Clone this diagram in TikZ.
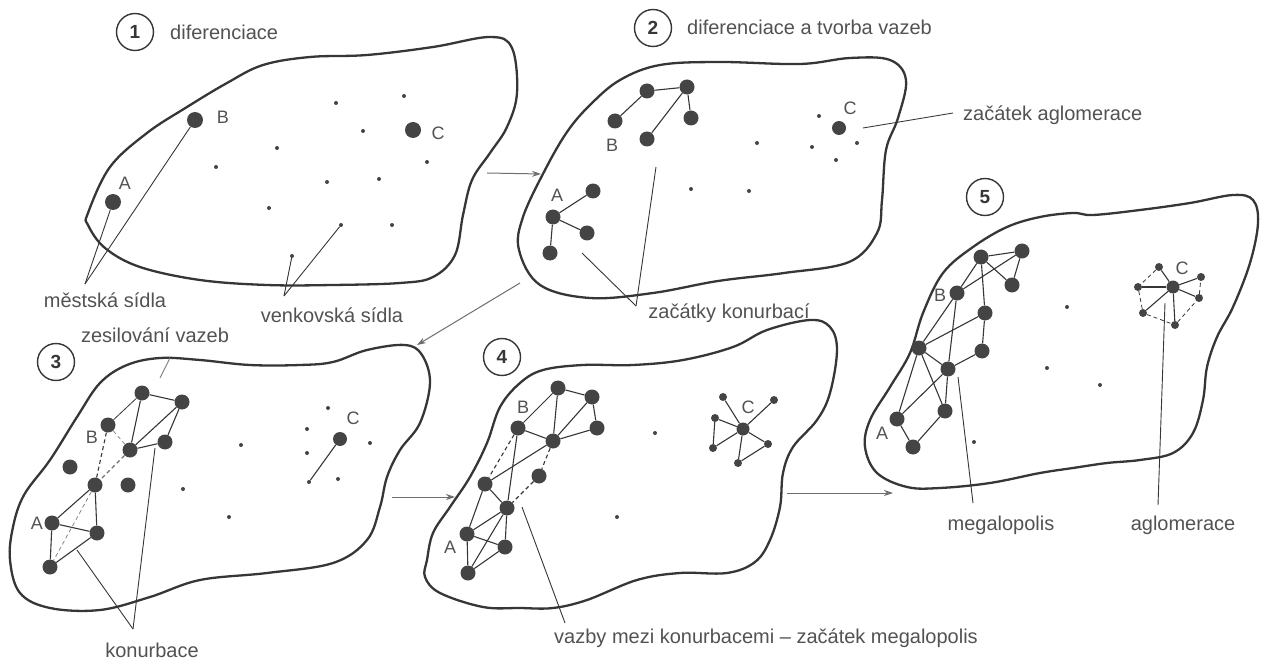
\documentclass[tikz,border=0pt]{standalone}
\usepackage{fontspec}
\setmainfont{Liberation Sans}
\usetikzlibrary{arrows.meta}
\definecolor{ink}{HTML}{363636}
\definecolor{txt}{HTML}{525252}
\definecolor{dotc}{HTML}{444444}
\definecolor{arrc}{HTML}{6E6E6E}
\begin{document}
\begin{tikzpicture}[x=1pt,y=-1pt,
 blob/.style={draw=ink,line width=2.3pt},
 big/.style={circle,fill=dotc,inner sep=0pt,minimum size=15pt},
 mid/.style={circle,fill=dotc,inner sep=0pt,minimum size=8pt},
 sm/.style={circle,fill=dotc,inner sep=0pt,minimum size=4pt},
 cbig/.style={circle,fill=dotc,inner sep=0pt,minimum size=13pt},
 edg/.style={draw=ink,line width=1.1pt},
 dedg/.style={edg,dash pattern=on 4pt off 3pt},
 lead/.style={draw=ink,line width=0.9pt},
 arr/.style={draw=arrc,line width=1pt,-{Stealth[length=9pt,width=6pt]}},
 lbl/.style={text=txt,font=\fontsize{20}{22}\selectfont,inner sep=0pt},
 ltr/.style={text=txt,font=\fontsize{18}{20}\selectfont,inner sep=0pt},
 num/.style={circle,draw=ink,line width=1.4pt,minimum size=37pt,inner sep=0pt,text=ink,font=\fontsize{19}{21}\selectfont\bfseries}
]
\useasboundingbox (0,0) rectangle (1261,663);

% ---------------- blobs
\draw[blob] plot[smooth cycle,tension=0.6] coordinates {(88,213)(110,167)(147,133)(187,107)(227,83)(263,65)(310,57)(367,55)(433,47)(490,37)(512,48)(517,93)(507,127)(490,153)(472,180)(463,215)(455,255)(433,277)(400,283)(333,285)(267,285)(200,280)(140,267)(105,248)(88,225)};
\draw[blob] plot[smooth cycle,tension=0.6] coordinates {(519,250)(523,217)(545,170)(567,132)(590,105)(620,80)(660,65)(720,62)(800,64)(850,58)(890,60)(906,80)(898,118)(886,150)(882,200)(877,233)(849,262)(784,273)(718,281)(653,293)(590,298)(540,285)};
\draw[blob] plot[smooth cycle,tension=0.6] coordinates {(13,527)(24,495)(50,460)(77,417)(100,383)(127,365)(160,358)(200,360)(250,365)(300,365)(333,362)(367,350)(405,345)(422,355)(430,383)(420,423)(400,450)(387,477)(380,507)(367,540)(333,563)(267,573)(200,580)(150,597)(100,610)(50,608)(20,593)(10,560)};
\draw[blob] plot[smooth cycle,tension=0.6] coordinates {(427,560)(433,533)(450,507)(470,477)(487,443)(500,407)(520,383)(543,370)(583,365)(633,365)(683,360)(733,347)(767,330)(810,320)(830,327)(837,350)(830,393)(817,420)(793,447)(783,473)(780,507)(770,540)(755,562)(727,573)(680,573)(637,580)(587,600)(553,608)(520,608)(483,607)(440,593)(425,577)};
\draw[blob] plot[smooth cycle,tension=0.6] coordinates {(865,447)(870,420)(890,387)(910,353)(923,313)(943,273)(973,247)(1007,227)(1040,217)(1073,213)(1093,215)(1140,210)(1190,203)(1233,195)(1253,200)(1258,223)(1250,263)(1233,307)(1217,337)(1207,367)(1203,400)(1193,433)(1173,453)(1140,460)(1107,463)(1073,468)(1040,473)(990,483)(940,488)(907,487)(877,473)};

% ---------------- numbers and headings
\node[num] (c1) at (135,32) {1};
\node[lbl,anchor=west] (h1) at (170,32) {diferenciace};
\node[num] (c2) at (653,28) {2};
\node[lbl,anchor=west] (h2) at (687,27) {diferenciace a tvorba vazeb};
\node[num] (c3) at (56,362) {3};
\node[num] (c4) at (502,357) {4};
\node[num] (c5) at (985,197) {5};

% ---------------- panel 1
\node[big,minimum size=16pt] (p1A) at (113,202) {};
\node[big,minimum size=16pt] (p1B) at (195,120) {};
\node[big,minimum size=16pt] (p1C) at (413,130) {};
\node[ltr] (p1la) at (125,183) {A};
\node[ltr] (p1lb) at (223,117) {B};
\node[ltr] (p1lc) at (438,133) {C};
\foreach \x/\y [count=\i] in {336/103,404/96,363/131,277/148,216/167,427/162,327/182,379/179,269/208,341/225,392/225,292/256}
  \node[sm] (p1s\i) at (\x,\y) {};
\coordinate (p1v1) at (85,284);
\coordinate (p1v2) at (284,296);
\draw[lead] (p1v1) -- (p1A);
\draw[lead] (p1v1) -- (p1B);
\draw[lead] (p1v2) -- (p1s12);
\draw[lead] (p1v2) -- (p1s10);
\node[lbl] (t1) at (105,300) {městská sídla};
\node[lbl] (t2) at (332,315) {venkovská sídla};

% ---------------- panel 2
\node[big] (p2b1) at (647,91) {};
\node[big] (p2b2) at (687,87) {};
\node[big] (p2b3) at (615,121) {};
\node[big] (p2b4) at (691,118) {};
\node[big] (p2b5) at (647,139) {};
\node[big] (p2a1) at (593,191) {};
\node[big] (p2a2) at (553,217) {};
\node[big] (p2a3) at (587,233) {};
\node[big] (p2a4) at (550,253) {};
\node[big,minimum size=14pt] (p2C) at (839,128) {};
\node[ltr] (p2lb) at (612,145) {B};
\node[ltr] (p2la) at (557,195) {A};
\node[ltr] (p2lc) at (850,108) {C};
\draw[edg] (p2b3) -- (p2b1);
\draw[edg] (p2b1) -- (p2b2);
\draw[edg] (p2b2) -- (p2b4);
\draw[edg] (p2b2) -- (p2b5);
\draw[edg] (p2a2) -- (p2a1);
\draw[edg] (p2a2) -- (p2a3);
\draw[edg] (p2a2) -- (p2a4);
\foreach \x/\y [count=\i] in {819/116,857/143,812/147,836/160,757/143,691/189,749/191}
  \node[sm] (p2s\i) at (\x,\y) {};
\coordinate (p2v) at (636,306);
\coordinate (p2e1) at (582,253);
\coordinate (p2e2) at (656,167);
\draw[lead] (p2v) -- (p2e1);
\draw[lead] (p2v) -- (p2e2);
\node[lbl] (t3) at (729,313) {začátky konurbací};
\coordinate (p2g0) at (863,128);
\coordinate (p2g) at (953,113);
\draw[lead] (p2g0) -- (p2g);
\node[lbl,anchor=west] (t4) at (963,115) {začátek aglomerace};

% ---------------- panel 3
\node[big] (n3a) at (142,393) {};
\node[big] (n3b) at (182,402) {};
\node[big] (n3c) at (108,425) {};
\node[big] (n3d) at (165,442) {};
\node[big] (n3e) at (130,450) {};
\node[big] (n3f) at (70,467) {};
\node[big] (n3g) at (95,485) {};
\node[big] (n3h) at (128,485) {};
\node[big] (n3i) at (52,523) {};
\node[big] (n3j) at (97,533) {};
\node[big] (n3k) at (50,567) {};
\node[ltr] (p3lb) at (92,437) {B};
\node[ltr] (p3la) at (37,523) {A};
\node[big,minimum size=14pt] (p3C) at (340,439) {};
\node[ltr] (p3lc) at (353,418) {C};
\draw[edg] (n3a) -- (n3b);
\draw[edg,line width=0.8pt] (n3a) -- (n3c);
\draw[edg] (n3a) -- (n3e);
\draw[edg] (n3b) -- (n3e);
\draw[edg] (n3b) -- (n3d);
\draw[edg] (n3e) -- (n3d);
\draw[edg] (n3g) -- (n3i);
\draw[edg] (n3g) -- (n3j);
\draw[edg] (n3i) -- (n3j);
\draw[edg] (n3i) -- (n3k);
\draw[edg] (n3k) -- (n3j);
\draw[dedg] (n3c) -- (n3g);
\draw[dedg,draw=ink!55,line width=0.8pt] (n3c) -- (n3e);
\draw[dedg,draw=ink!70] (n3e) -- (n3g);
\draw[dedg,draw=ink!60,line width=0.8pt] (n3g) -- (n3k);
\foreach \x/\y [count=\i] in {328/408,307/429,370/443,307/453,309/482,338/479,241/445,183/489,229/517}
  \node[sm] (p3s\i) at (\x,\y) {};
\draw[edg] (p3C) -- (p3s5);
\node[lbl] (t5) at (155,335) {zesilování vazeb};
\coordinate (p3z1) at (160,378);
\coordinate (p3z2) at (170,358);
\draw[lead,draw=ink!60] (p3z1) -- (p3z2);
\coordinate (p3v) at (133,629);
\coordinate (p3e1) at (77,550);
\coordinate (p3e2) at (155,448);
\draw[lead] (p3v) -- (p3e1);
\draw[lead] (p3v) -- (p3e2);
\node[lbl] (t6) at (152,650) {konurbace};

% ---------------- panel 4
\node[big] (n4a) at (558,388) {};
\node[big] (n4b) at (592,397) {};
\node[big] (n4c) at (518,428) {};
\node[big] (n4d) at (597,428) {};
\node[big] (n4e) at (553,441) {};
\node[big] (n4f) at (485,484) {};
\node[big] (n4g) at (539,476) {};
\node[big] (n4h) at (507,508) {};
\node[big] (n4i) at (467,534) {};
\node[big] (n4j) at (505,547) {};
\node[big] (n4k) at (468,573) {};
\node[ltr] (p4lb) at (523,407) {B};
\node[ltr] (p4la) at (450,547) {A};
\draw[edg] (n4a) -- (n4b);
\draw[edg,line width=0.8pt] (n4a) -- (n4c);
\draw[edg] (n4a) -- (n4e);
\draw[edg] (n4b) -- (n4d);
\draw[edg] (n4b) -- (n4e);
\draw[edg] (n4c) -- (n4e);
\draw[edg] (n4e) -- (n4d);
\draw[edg] (n4e) -- (n4f);
\draw[edg] (n4c) -- (n4h);
\draw[edg] (n4f) -- (n4i);
\draw[edg] (n4f) -- (n4h);
\draw[edg] (n4h) -- (n4i);
\draw[edg] (n4h) -- (n4j);
\draw[edg] (n4h) -- (n4k);
\draw[edg] (n4i) -- (n4j);
\draw[edg] (n4i) -- (n4k);
\draw[edg] (n4k) -- (n4j);
\draw[dedg] (n4c) -- (n4f);
\draw[dedg] (n4e) -- (n4g);
\draw[dedg] (n4g) -- (n4h);
\node[cbig] (p4C) at (743,429) {};
\node[ltr] (p4lc) at (748,407) {C};
\foreach \x/\y [count=\i] in {723/397,774/400,715/418,713/448,768/444,738/463}
  {\node[mid] (p4c\i) at (\x,\y) {};
   \draw[edg] (p4C) -- (p4c\i);}
\draw[edg] (p4c3) -- (p4c4);
\draw[edg] (p4c5) -- (p4c6);
\node[sm] (p4s1) at (655,433) {};
\node[sm] (p4s2) at (617,517) {};
\coordinate (p4e) at (522,507);
\coordinate (p4v) at (565,623);
\draw[lead] (p4e) -- (p4v);
\node[lbl] (t7) at (766,638) {vazby mezi konurbacemi – začátek megalopolis};

% ---------------- panel 5
\node[big] (n5a) at (981,257) {};
\node[big] (n5b) at (1022,251) {};
\node[big] (n5c) at (957,293) {};
\node[big] (n5d) at (1012,285) {};
\node[big] (n5e) at (985,313) {};
\node[big] (n5f) at (919,348) {};
\node[big] (n5g) at (982,351) {};
\node[big] (n5h) at (948,369) {};
\node[big] (n5i) at (897,419) {};
\node[big] (n5j) at (945,411) {};
\node[big] (n5k) at (913,447) {};
\node[ltr] (p5lb) at (940,295) {B};
\node[ltr] (p5la) at (882,433) {A};
\draw[edg] (n5a) -- (n5b);
\draw[edg] (n5a) -- (n5c);
\draw[edg] (n5a) -- (n5d);
\draw[edg] (n5a) -- (n5e);
\draw[edg] (n5b) -- (n5d);
\draw[edg] (n5b) -- (n5c);
\draw[edg] (n5c) -- (n5f);
\draw[edg] (n5c) -- (n5h);
\draw[edg] (n5e) -- (n5f);
\draw[edg] (n5e) -- (n5g);
\draw[edg] (n5g) -- (n5h);
\draw[edg] (n5f) -- (n5h);
\draw[edg] (n5f) -- (n5i);
\draw[edg] (n5f) -- (n5j);
\draw[edg] (n5h) -- (n5i);
\draw[edg] (n5h) -- (n5j);
\draw[edg] (n5i) -- (n5k);
\draw[edg] (n5k) -- (n5j);
\node[cbig] (p5C) at (1173,287) {};
\node[ltr] (p5lc) at (1182,268) {C};
\foreach \x/\y [count=\i] in {1159/267,1201/277,1138/287,1199/298,1143/313,1175/325}
  {\node[mid] (p5c\i) at (\x,\y) {};
   \draw[edg] (p5C) -- (p5c\i);}
\draw[dedg,line width=0.8pt] (p5c1) -- (p5c3) -- (p5c5) -- (p5c6) -- (p5c4) -- (p5c2);
\foreach \x/\y [count=\i] in {1067/307,1047/368,1100/385,974/442}
  \node[sm] (p5s\i) at (\x,\y) {};
\coordinate (p5m1) at (958,377);
\coordinate (p5m2) at (973,503);
\coordinate (p5g1) at (1165,303);
\coordinate (p5g2) at (1158,505);
\draw[lead] (p5m1) -- (p5m2);
\draw[lead] (p5g1) -- (p5g2);
\node[lbl] (t8) at (1001,525) {megalopolis};
\node[lbl] (t9) at (1183,525) {aglomerace};

% ---------------- arrows between panels
\coordinate (a1s) at (487,173); \coordinate (a1e) at (541,174);
\coordinate (a2s) at (520,283); \coordinate (a2e) at (417,345);
\coordinate (a3s) at (392,497); \coordinate (a3e) at (455,497);
\coordinate (a4s) at (787,493); \coordinate (a4e) at (893,493);
\draw[arr] (a1s) -- (a1e);
\draw[arr] (a2s) -- (a2e);
\draw[arr] (a3s) -- (a3e);
\draw[arr] (a4s) -- (a4e);
\end{tikzpicture}
\end{document}
